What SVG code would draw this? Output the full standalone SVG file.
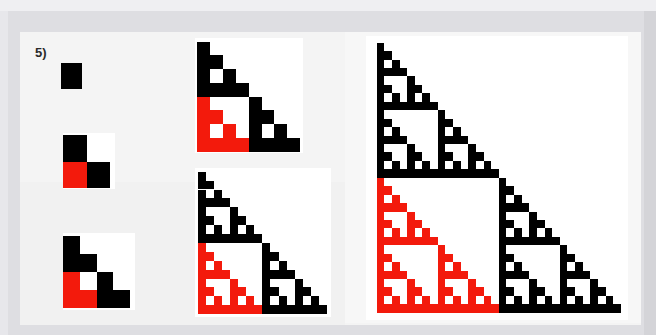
<svg xmlns="http://www.w3.org/2000/svg" xmlns:xlink="http://www.w3.org/1999/xlink" width="656" height="335" viewBox="0 0 656 335">
  <style>
    .cell { shape-rendering: crispEdges; }
    .red { fill: #f31a0c; }
    .blk { fill: #000000; }
    .panel { fill: #ffffff; }
    .label { font-family: "Liberation Sans", Arial, sans-serif; font-weight: bold; font-size: 13px; fill: #2a2a2a; }
  </style>
  <defs>
    <rect id="s0" class="cell" width="1" height="1"/>
    <g id="s1"><use href="#s0"/><use href="#s0" y="1"/><use href="#s0" x="1" y="1"/></g>
    <g id="s2"><use href="#s1"/><use href="#s1" y="2"/><use href="#s1" x="2" y="2"/></g>
    <g id="s3"><use href="#s2"/><use href="#s2" y="4"/><use href="#s2" x="4" y="4"/></g>
    <g id="s4"><use href="#s3"/><use href="#s3" y="8"/><use href="#s3" x="8" y="8"/></g>
  </defs>

  <!-- photo background -->
  <rect x="0" y="0" width="656" height="335" fill="#dedee2"/>
  <rect x="0" y="0" width="656" height="11" fill="#efeff2"/>
  <rect x="0" y="11" width="8" height="324" fill="#e7e7eb"/>
  <rect x="644" y="11" width="12" height="324" fill="#d4d4d8"/>

  <!-- paper -->
  <rect x="20" y="32" width="621" height="293" fill="#f4f4f4"/>
  <rect x="20" y="182" width="325" height="143" fill="#f1f1f1"/>
  <rect x="345" y="32" width="296" height="291" fill="#f7f7f7"/>

  <!-- white panels behind grids -->
  <rect class="panel" x="63" y="133" width="52" height="56"/>
  <rect class="panel" x="63" y="233" width="72" height="77"/>
  <rect class="panel" x="195" y="38" width="108" height="115"/>
  <rect class="panel" x="195" y="168" width="136" height="149"/>
  <rect class="panel" x="366" y="36" width="262" height="284"/>

  <text class="label" x="35" y="57">5)</text>

  <g id="tri1">
    <rect class="blk" x="61" y="63" width="21" height="26"/>
  </g>

  <g id="tri2" transform="translate(63,135) scale(23.5,26.5)">
    <use href="#s0" class="blk"/>
    <use href="#s0" class="red" y="1"/>
    <use href="#s0" class="blk" x="1" y="1"/>
  </g>

  <g id="tri4" transform="translate(63,236) scale(16.75,18)">
    <use href="#s1" class="blk"/>
    <use href="#s1" class="red" y="2"/>
    <use href="#s1" class="blk" x="2" y="2"/>
  </g>

  <g id="tri8" transform="translate(197.3,41.7) scale(12.84,13.75)">
    <use href="#s2" class="blk"/>
    <use href="#s2" class="red" y="4"/>
    <use href="#s2" class="blk" x="4" y="4"/>
  </g>

  <g id="tri16" transform="translate(198.3,171.7) scale(8.02,8.9)">
    <use href="#s3" class="blk"/>
    <use href="#s3" class="red" y="8"/>
    <use href="#s3" class="blk" x="8" y="8"/>
  </g>

  <g id="tri32" transform="translate(376.7,42.7) scale(7.63,8.44)">
    <use href="#s4" class="blk"/>
    <use href="#s4" class="red" y="16"/>
    <use href="#s4" class="blk" x="16" y="16"/>
  </g>
</svg>
